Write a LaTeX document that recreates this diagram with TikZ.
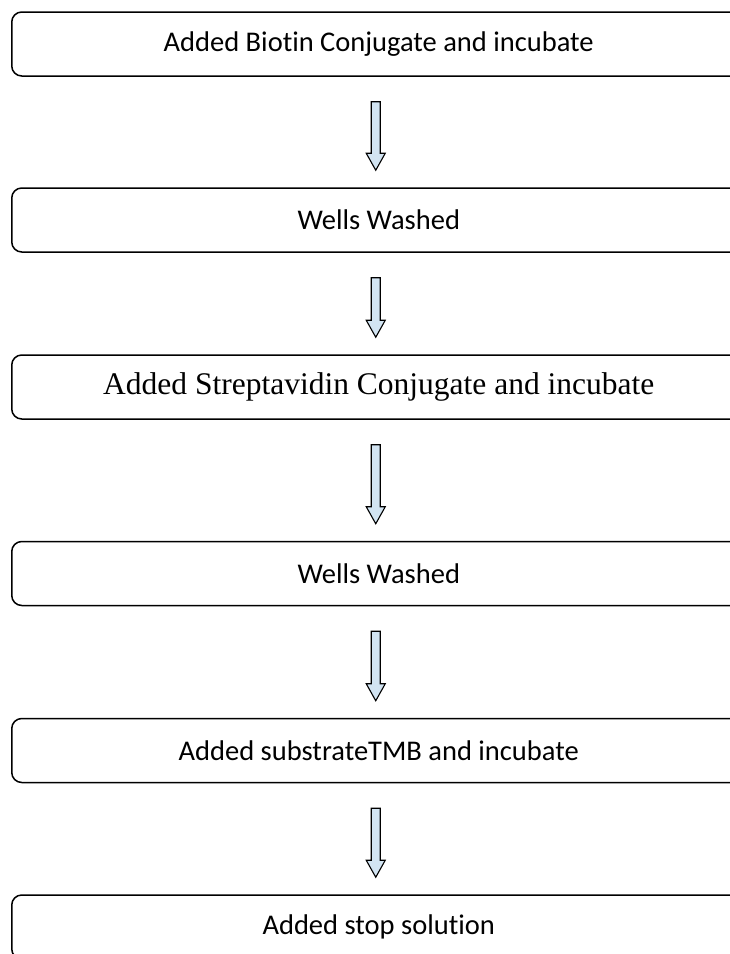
\documentclass[tikz,border=0pt]{standalone}
\usepackage{fontspec}
\setmainfont{Carlito}[Ligatures={NoCommon}]
\newfontfamily\timesfont{Liberation Serif}
\usepackage{tikz}
\usetikzlibrary{calc}

\definecolor{arrowblue}{RGB}{210,228,242}

% text sits in the visible part of the box, the box runs on past the page edge
\newcommand{\steptext}[1]{\makebox[734pt]{#1}\hspace*{66pt}}

\newcommand{\blockarrow}[2]{%
  \coordinate (s) at ([xshift=-36,yshift=-25]#1.south);
  \coordinate (e) at ([xshift=-36,yshift=17]#2.north);
  \draw[arrowbody] ($(s)+(-4.5,0)$) -- ($(e)+(-4.5,17)$) -- ($(e)+(-9.5,17)$)
    -- (e) -- ($(e)+(9.5,17)$) -- ($(e)+(4.5,17)$) -- ($(s)+(4.5,0)$) -- cycle;}

\begin{document}
\begin{tikzpicture}
  [x=1pt,y=1pt,
   stepbox/.style={draw,line width=1.5pt,rounded corners=10pt,anchor=west,
     minimum height=64pt,inner sep=0pt,font=\fontsize{28.5}{34}\selectfont},
   arrowbody/.style={draw,line width=1.1pt,fill=arrowblue,line join=miter}]
  \useasboundingbox (0,0) rectangle (730,-954);
  \clip (0,0) rectangle (730,-954);

  \node[stepbox] (b1) at (11,-44)    {\steptext{Added Biotin Conjugate and incubate}};
  \node[stepbox] (b2) at (11,-220)   {\steptext{Wells Washed}};
  \node[stepbox,font=\timesfont\fontsize{31.5}{36}\selectfont]
                 (b3) at (11,-387)   {\steptext{Added Streptavidin Conjugate and incubate}};
  \node[stepbox] (b4) at (11,-573.5) {\steptext{Wells Washed}};
  \node[stepbox] (b5) at (11,-750.5) {\steptext{Added substrateTMB and incubate}};
  \node[stepbox] (b6) at (11,-927)   {\steptext{Added stop solution}};

  \foreach \from/\to in {b1/b2, b2/b3, b3/b4, b4/b5, b5/b6}
    \blockarrow{\from}{\to};

\end{tikzpicture}
\end{document}
